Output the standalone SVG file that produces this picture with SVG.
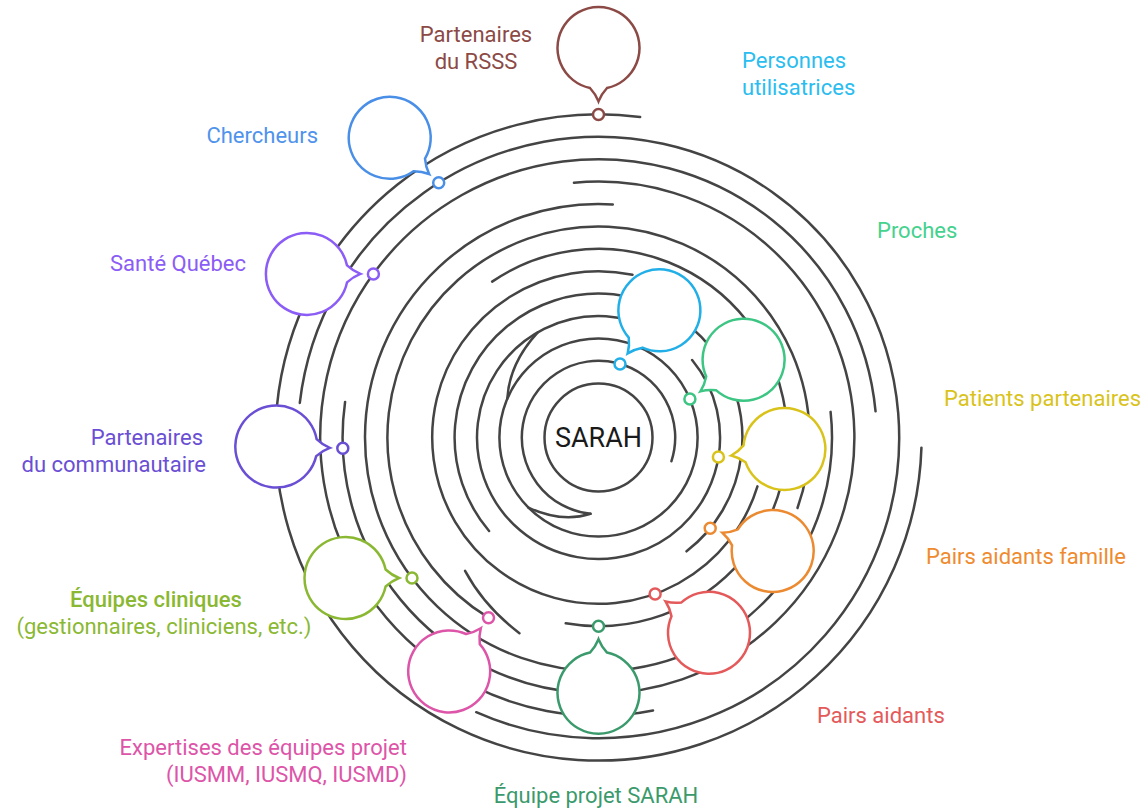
<svg xmlns="http://www.w3.org/2000/svg" xmlns:xlink="http://www.w3.org/1999/xlink" width="1147" height="810" viewBox="0 0 1147 810">
<style>
.ring{fill:none;stroke:#444;stroke-width:2.5;stroke-linecap:round}
.bub{fill:#fff;stroke-width:2.5;stroke-linejoin:miter}
.dot{fill:#fff;stroke-width:2.5}
.lbl{font-family:Roboto,"Liberation Sans",sans-serif;font-size:22px}
</style>
<defs>
<path id="bubble" d="M40.11 8.52 A41 41 0 1 1 40.11 -8.52 Q46 -3 53.5 0 Q46 3 40.11 8.52 Z"/>
</defs>
<rect width="1147" height="810" fill="#fff"/>
<g id="connectors">
<path class="ring" d="M921.44 447.65 A323.1 323.1 0 1 1 640.12 117.09"/>
<path class="ring" d="M299.79 402.94 A300.7 300.7 0 1 1 476.19 712.2"/>
<path class="ring" d="M653.03 710.4 A278.3 278.3 0 1 1 875.56 411.31"/>
<path class="ring" d="M573.97 182.78 A255.9 255.9 0 1 1 345.09 401.89"/>
<path class="ring" d="M830.59 411.88 A233.5 233.5 0 1 1 612.76 204.44"/>
<path class="ring" d="M488.51 617.69 A211.1 211.1 0 1 1 797.49 507.97"/>
<path class="ring" d="M492.16 281.62 A188.7 188.7 0 1 1 565.73 623.33"/>
<path class="ring" d="M465.07 570.93 Q484.09 606.32 519.42 633.23"/>
<path class="ring" d="M757.45 486.4 A166.3 166.3 0 1 1 632.51 274.71"/>
<path class="ring" d="M489.08 530.96 A143.9 143.9 0 1 1 686.53 551.33"/>
<path class="ring" d="M692.12 360.05 A121.5 121.5 0 1 1 659.25 332.28"/>
<path class="ring" d="M537.75 332.28 Q509.26 363.29 507.28 398.78"/>
<circle class="ring" cx="598.5" cy="437.5" r="99.1"/>
<path class="ring" d="M528.43 507.57 Q561.86 523 590.48 513.78"/>
<path class="ring" d="M590.48 513.78 A76.7 76.7 0 1 1 671.45 461.2"/>
</g>
<g id="center">
<circle cx="598.5" cy="437.5" r="54" fill="#fff" stroke="#444" stroke-width="2.5"/>
<text x="598.5" y="447" text-anchor="middle" style="font-family:Roboto,'Liberation Sans',sans-serif;font-size:27px" fill="#1a1a1a">SARAH</text>
</g>
<g id="n-rsss" stroke="#8c4a46">
<use xlink:href="#bubble" class="bub" transform="translate(598.5 47.9) rotate(90)"/>
<circle class="dot" cx="598.5" cy="114.4" r="5.5"/>
<text class="lbl" fill="#8c4a46" stroke="none" text-anchor="middle"><tspan x="476" y="42">Partenaires</tspan><tspan x="476" y="69">du RSSS</tspan></text>
</g>
<g id="n-personnes" stroke="#22aee6">
<use xlink:href="#bubble" class="bub" transform="translate(659.4 310.3) rotate(126.35)"/>
<circle class="dot" cx="620" cy="363.9" r="5.5"/>
<text class="lbl" fill="#2bbdf0" stroke="none"><tspan x="742" y="68">Personnes</tspan><tspan x="742" y="95">utilisatrices</tspan></text>
</g>
<g id="n-chercheurs" stroke="#4a8fe7">
<use xlink:href="#bubble" class="bub" transform="translate(389.7 137.8) rotate(42.56)"/>
<circle class="dot" cx="438.7" cy="182.8" r="5.5"/>
<text class="lbl" fill="#4f93ec" stroke="none" x="318" y="143" text-anchor="end">Chercheurs</text>
</g>
<g id="n-proches" stroke="#3cc583">
<use xlink:href="#bubble" class="bub" transform="translate(743.6 359.8) rotate(143.81)"/>
<circle class="dot" cx="689.9" cy="399.1" r="5.5"/>
<text class="lbl" fill="#45d28e" stroke="none" x="877" y="238">Proches</text>
</g>
<g id="n-sante" stroke="#8b5cf6">
<use xlink:href="#bubble" class="bub" transform="translate(306.9 273.9)"/>
<circle class="dot" cx="373.4" cy="273.9" r="5.5"/>
<text class="lbl" fill="#8b5cf6" stroke="none" x="246" y="271" text-anchor="end">Santé Québec</text>
</g>
<g id="n-patients" stroke="#d9c31b">
<use xlink:href="#bubble" class="bub" transform="translate(784.4 449) rotate(173.04)"/>
<circle class="dot" cx="718.4" cy="457.1" r="5.5"/>
<text class="lbl" fill="#d9c31b" stroke="none" x="944" y="406">Patients partenaires</text>
</g>
<g id="n-communautaire" stroke="#6a4fd4">
<use xlink:href="#bubble" class="bub" transform="translate(276.3 446.6) rotate(1.39)"/>
<circle class="dot" cx="342.8" cy="448.2" r="5.5"/>
<text class="lbl" fill="#6a4fd4" stroke="none" text-anchor="end"><tspan x="203" y="445">Partenaires</tspan><tspan x="206" y="472">du communautaire</tspan></text>
</g>
<g id="n-pairs-famille" stroke="#ec8a31">
<use xlink:href="#bubble" class="bub" transform="translate(772.7 551) rotate(-160.04)"/>
<circle class="dot" cx="710.2" cy="528.3" r="5.5"/>
<text class="lbl" fill="#ef8b2f" stroke="none" x="926" y="564">Pairs aidants famille</text>
</g>
<g id="n-cliniques" stroke="#8ab833">
<use xlink:href="#bubble" class="bub" transform="translate(345.5 578)"/>
<circle class="dot" cx="412" cy="578" r="5.5"/>
<text class="lbl" fill="#8ab833" stroke="none" text-anchor="middle"><tspan x="156" y="607" font-weight="500">Équipes cliniques</tspan><tspan x="164" y="634">(gestionnaires, cliniciens, etc.)</tspan></text>
</g>
<g id="n-pairs" stroke="#e4595a">
<use xlink:href="#bubble" class="bub" transform="translate(709 632.8) rotate(-144.16)"/>
<circle class="dot" cx="655.1" cy="593.9" r="5.5"/>
<text class="lbl" fill="#e4595a" stroke="none" x="817" y="723">Pairs aidants</text>
</g>
<g id="n-expertises" stroke="#dd55a8">
<use xlink:href="#bubble" class="bub" transform="translate(449.2 671.4) rotate(-53.8)"/>
<circle class="dot" cx="488.5" cy="617.7" r="5.5"/>
<text class="lbl" fill="#dd55a8" stroke="none" text-anchor="end"><tspan x="407" y="755">Expertises des équipes projet</tspan><tspan x="407" y="782">(IUSMM, IUSMQ, IUSMD)</tspan></text>
</g>
<g id="n-equipe-sarah" stroke="#3b9a6c">
<use xlink:href="#bubble" class="bub" transform="translate(598.5 692.7) rotate(-90)"/>
<circle class="dot" cx="598.5" cy="626.2" r="5.5"/>
<text class="lbl" fill="#3b9a6c" stroke="none" x="596" y="803" text-anchor="middle">Équipe projet SARAH</text>
</g>
</svg>
